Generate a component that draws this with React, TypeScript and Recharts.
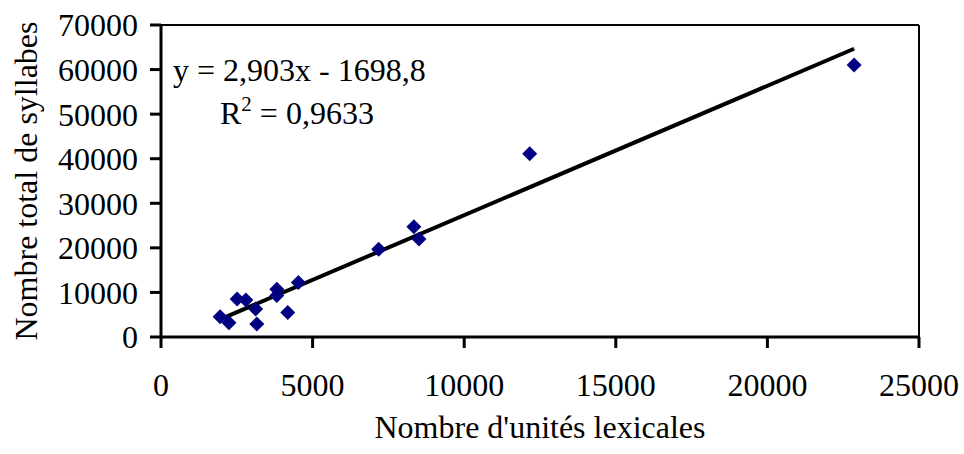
import React from 'react';
import {
  ScatterChart, Scatter, XAxis, YAxis, ReferenceLine, Label
} from 'recharts';

// unités lexicales / syllabes
const unites = [1950, 2240, 2510, 2800, 3120, 3160, 3820, 3820, 4180, 4530, 7180, 8340, 8510, 12160, 22860];
const syllabes = [4550, 3200, 8500, 8300, 6300, 2900, 10700, 9300, 5500, 12200, 19700, 24750, 22000, 41100, 61000];

const xTicks = [0, 5000, 10000, 15000, 20000, 25000];
const yTicks = [0, 10000, 20000, 30000, 40000, 50000, 60000, 70000];

// courbe de tendance linéaire affichée
const pente = 2.903;
const ordonnee = -1698.8;

const points = unites.map((u, i) => ({ x: u, y: syllabes[i] }));
const xMin = Math.min(...unites);
const xMax = Math.max(...unites);
const tendance = [
  { x: xMin, y: pente * xMin + ordonnee },
  { x: xMax, y: pente * xMax + ordonnee },
];

const font = '"Liberation Serif", "Times New Roman", serif';
const tickStyle = { fontFamily: font, fontSize: 32, fill: '#000' };

const Losange = (props: any) => {
  const { cx, cy } = props;
  const r = 7.5;
  return (
    <path
      d={`M${cx},${cy - r} L${cx + r},${cy} L${cx},${cy + r} L${cx - r},${cy} Z`}
      fill="#000080"
    />
  );
};

export default function App() {
  // le graphique occupe toute la fenêtre : le libellé « 25000 » touche le bord droit
  return (
    <div style={{ position: 'absolute', left: 0, top: 0, width: 964, height: 454 }}>
      <ScatterChart width={964} height={454} margin={{ top: 25, right: 45, bottom: 8, left: 8 }}>
        <XAxis
          type="number"
          dataKey="x"
          domain={[0, 25000]}
          ticks={xTicks}
          interval={0}
          height={109}
          tickSize={11}
          tickMargin={25}
          tick={tickStyle}
          axisLine={{ stroke: '#000', strokeWidth: 3 }}
          tickLine={{ stroke: '#000', strokeWidth: 3 }}
        >
          <Label
            value="Nombre d'unités lexicales"
            position="insideBottom"
            offset={8}
            style={{ fontFamily: font, fontSize: 32, fill: '#000' }}
          />
        </XAxis>
        <YAxis
          type="number"
          dataKey="y"
          domain={[0, 70000]}
          ticks={yTicks}
          interval={0}
          width={153}
          tickSize={11}
          tickMargin={12}
          tick={tickStyle}
          axisLine={{ stroke: '#000', strokeWidth: 3 }}
          tickLine={{ stroke: '#000', strokeWidth: 3 }}
        >
          <Label
            value="Nombre total de syllabes"
            angle={-90}
            position="insideLeft"
            offset={18}
            style={{ fontFamily: font, fontSize: 32, fill: '#000', textAnchor: 'middle' }}
          />
        </YAxis>
        <ReferenceLine y={70000} stroke="#000" strokeWidth={2} />
        <ReferenceLine x={25000} stroke="#000" strokeWidth={2} />
        <ReferenceLine segment={tendance} stroke="#000" strokeWidth={4} />
        <Scatter data={points} shape={<Losange />} isAnimationActive={false} />
      </ScatterChart>
      <div
        style={{
          position: 'absolute', left: 173, top: 53, fontFamily: font, fontSize: 32,
          lineHeight: '34px', color: '#000', whiteSpace: 'nowrap'
        }}
      >
        y = 2,903x - 1698,8
      </div>
      <div
        style={{
          position: 'absolute', left: 220, top: 96, fontFamily: font, fontSize: 32,
          lineHeight: '34px', color: '#000', whiteSpace: 'nowrap'
        }}
      >
        R<sup style={{ fontSize: 21, verticalAlign: 'top', lineHeight: '21px', position: 'relative', top: -2 }}>2</sup> = 0,9633
      </div>
    </div>
  );
}
